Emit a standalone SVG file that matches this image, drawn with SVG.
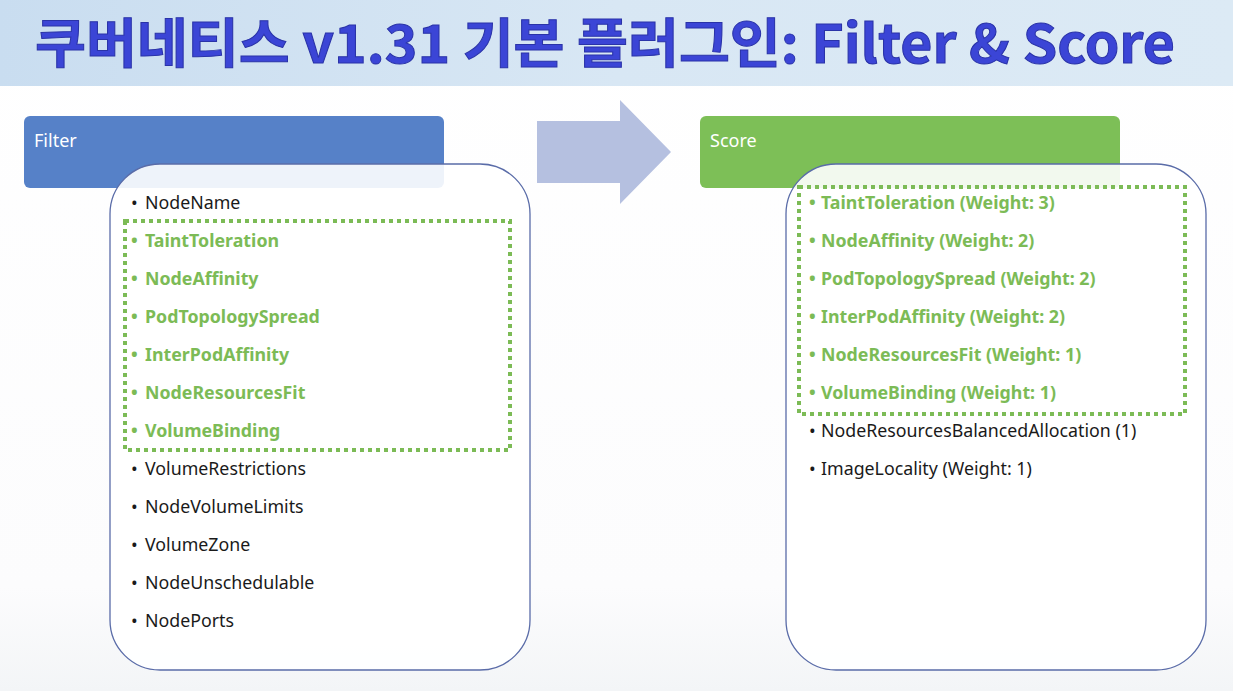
<svg xmlns="http://www.w3.org/2000/svg" width="1233" height="691" viewBox="0 0 1233 691">
<defs>
<linearGradient id="band" x1="0" y1="0" x2="1" y2="0">
<stop offset="0" stop-color="#c9ddf0"/>
<stop offset="0.5" stop-color="#d8e7f4"/>
<stop offset="1" stop-color="#dceaf5"/>
</linearGradient>
<linearGradient id="bg" x1="0" y1="0" x2="0" y2="1">
<stop offset="0" stop-color="#ffffff"/>
<stop offset="0.85" stop-color="#fcfcfd"/>
<stop offset="1" stop-color="#f3f5f7"/>
</linearGradient>
</defs>
<style>
.title{font-family:"Noto Sans CJK KR","Noto Sans",sans-serif;font-weight:700;font-size:53px;fill:#3b45d6;stroke:#2a33a8;stroke-width:1}
.hdr{font-family:"Noto Sans","Liberation Sans",sans-serif;font-size:18px;fill:#ffffff}
.item{font-family:"Noto Sans","Liberation Sans",sans-serif;font-size:17.8px;fill:#1a1a1a}
.g{font-weight:700;fill:#7cbb56}
.box{fill:#ffffff;fill-opacity:0.9;stroke:#5a6ca8;stroke-width:1.3}
.dot{fill:none;stroke:#7cbb56;stroke-width:4;stroke-dasharray:4 4}
</style>
<rect x="0" y="0" width="1233" height="691" fill="url(#bg)"/>
<rect x="0" y="0" width="1233" height="86" fill="url(#band)"/>
<text class="title" x="35" y="63" textLength="1140" lengthAdjust="spacingAndGlyphs">쿠버네티스 v1.31 기본 플러그인: Filter &amp; Score</text>

<g id="connectors">
<polygon points="537,121 620,121 620,100 671,152 620,204 620,183 537,183" fill="#b5c0e0"/>
</g>

<g id="filter-header">
<rect x="24" y="116" width="420" height="72" rx="6" fill="#5681c8"/>
<text class="hdr" x="34" y="147">Filter</text>
</g>

<g id="filter-list">
<rect class="box" x="110" y="164" width="420" height="506" rx="50"/>
<rect class="dot" x="125" y="221" width="385" height="229"/>
<text class="item" x="131" y="209">•<tspan x="145">NodeName</tspan></text>
<text class="item g" x="131" y="247">•<tspan x="145">TaintToleration</tspan></text>
<text class="item g" x="131" y="285">•<tspan x="145">NodeAffinity</tspan></text>
<text class="item g" x="131" y="323">•<tspan x="145">PodTopologySpread</tspan></text>
<text class="item g" x="131" y="361">•<tspan x="145">InterPodAffinity</tspan></text>
<text class="item g" x="131" y="399">•<tspan x="145">NodeResourcesFit</tspan></text>
<text class="item g" x="131" y="437">•<tspan x="145">VolumeBinding</tspan></text>
<text class="item" x="131" y="475">•<tspan x="145">VolumeRestrictions</tspan></text>
<text class="item" x="131" y="513">•<tspan x="145">NodeVolumeLimits</tspan></text>
<text class="item" x="131" y="551">•<tspan x="145">VolumeZone</tspan></text>
<text class="item" x="131" y="589">•<tspan x="145">NodeUnschedulable</tspan></text>
<text class="item" x="131" y="627">•<tspan x="145">NodePorts</tspan></text>
</g>

<g id="score-header">
<rect x="700" y="116" width="420" height="72" rx="6" fill="#7dbf57"/>
<text class="hdr" x="710" y="147">Score</text>
</g>

<g id="score-list">
<rect class="box" x="786" y="164" width="420" height="506" rx="50"/>
<rect class="dot" x="799" y="187" width="386" height="227"/>
<text class="item g" x="809" y="209">•<tspan x="821">TaintToleration (Weight: 3)</tspan></text>
<text class="item g" x="809" y="247">•<tspan x="821">NodeAffinity (Weight: 2)</tspan></text>
<text class="item g" x="809" y="285">•<tspan x="821">PodTopologySpread (Weight: 2)</tspan></text>
<text class="item g" x="809" y="323">•<tspan x="821">InterPodAffinity (Weight: 2)</tspan></text>
<text class="item g" x="809" y="361">•<tspan x="821">NodeResourcesFit (Weight: 1)</tspan></text>
<text class="item g" x="809" y="399">•<tspan x="821">VolumeBinding (Weight: 1)</tspan></text>
<text class="item" x="809" y="437">•<tspan x="821">NodeResourcesBalancedAllocation (1)</tspan></text>
<text class="item" x="809" y="475">•<tspan x="821">ImageLocality (Weight: 1)</tspan></text>
</g>
</svg>
